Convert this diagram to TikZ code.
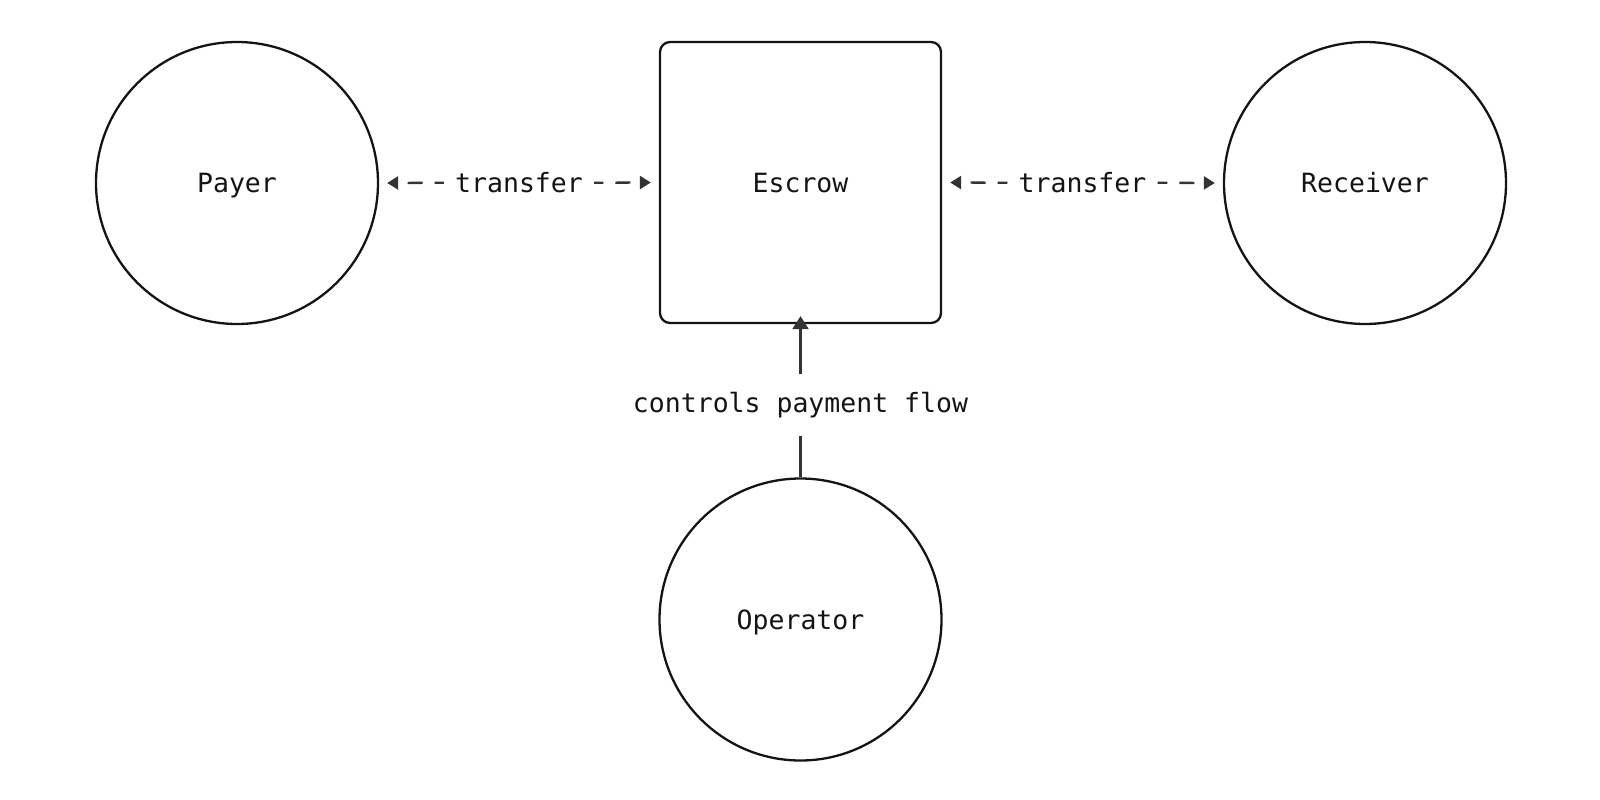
\documentclass[tikz,border=0pt]{standalone}
\usepackage{fontspec}
\setmonofont{DejaVu Sans Mono}
\usetikzlibrary{arrows.meta}
\definecolor{ink}{HTML}{141414}
\definecolor{arr}{HTML}{333333}
\begin{document}
\begin{tikzpicture}[x=1pt,y=-1pt,
  every node/.style={font=\ttfamily\fontsize{26.5}{30}\selectfont, text=ink},
  actor/.style={circle, draw=ink, line width=2.3pt, minimum size=282pt, inner sep=0pt, text height=19.5pt, text depth=0pt},
  boxnode/.style={rectangle, rounded corners=10pt, draw=ink, line width=2.3pt, minimum width=281pt, minimum height=281pt, inner sep=0pt, text height=19.5pt, text depth=0pt},
  flow/.style={draw=arr, line width=2.3pt, -{Triangle[length=13pt,width=16pt]}},
  dflow/.style={draw=arr, line width=2.3pt, {Triangle[length=11pt,width=13pt]}-, dash pattern=on 15pt off 12pt, dash phase=17pt},
  lbl/.style={inner xsep=11pt, inner ysep=0pt}
]
\useasboundingbox (0,0) rectangle (1600,800);
\node[actor] (payer) at (237,183) {Payer};
\node[boxnode] (escrow) at (800.5,182.5) {Escrow};
\node[actor] (receiver) at (1365,183) {Receiver};
\node[actor] (operator) at (800.5,619.5) {Operator};
% transfer labels
\path ([xshift=8pt]payer.east) -- node[lbl] (t1) {transfer} ([xshift=-8pt]escrow.west);
\path ([xshift=8pt]escrow.east) -- node[lbl] (t2) {transfer} ([xshift=-8pt]receiver.west);
\draw[dflow] ([xshift=8pt]payer.east) -- (t1.west);
\draw[dflow] ([xshift=-8pt]escrow.west) -- (t1.east);
\draw[dflow] ([xshift=8pt]escrow.east) -- (t2.west);
\draw[dflow] ([xshift=-8pt]receiver.west) -- (t2.east);
% control label
\node[minimum height=62pt, inner sep=0pt] (ctl) at (800.5,405) {controls payment flow};
\draw[draw=arr, line width=2.3pt] (operator.north) -- (ctl.south);
\draw[flow] (ctl.north) -- ([yshift=8pt]escrow.south);
\end{tikzpicture}
\end{document}
